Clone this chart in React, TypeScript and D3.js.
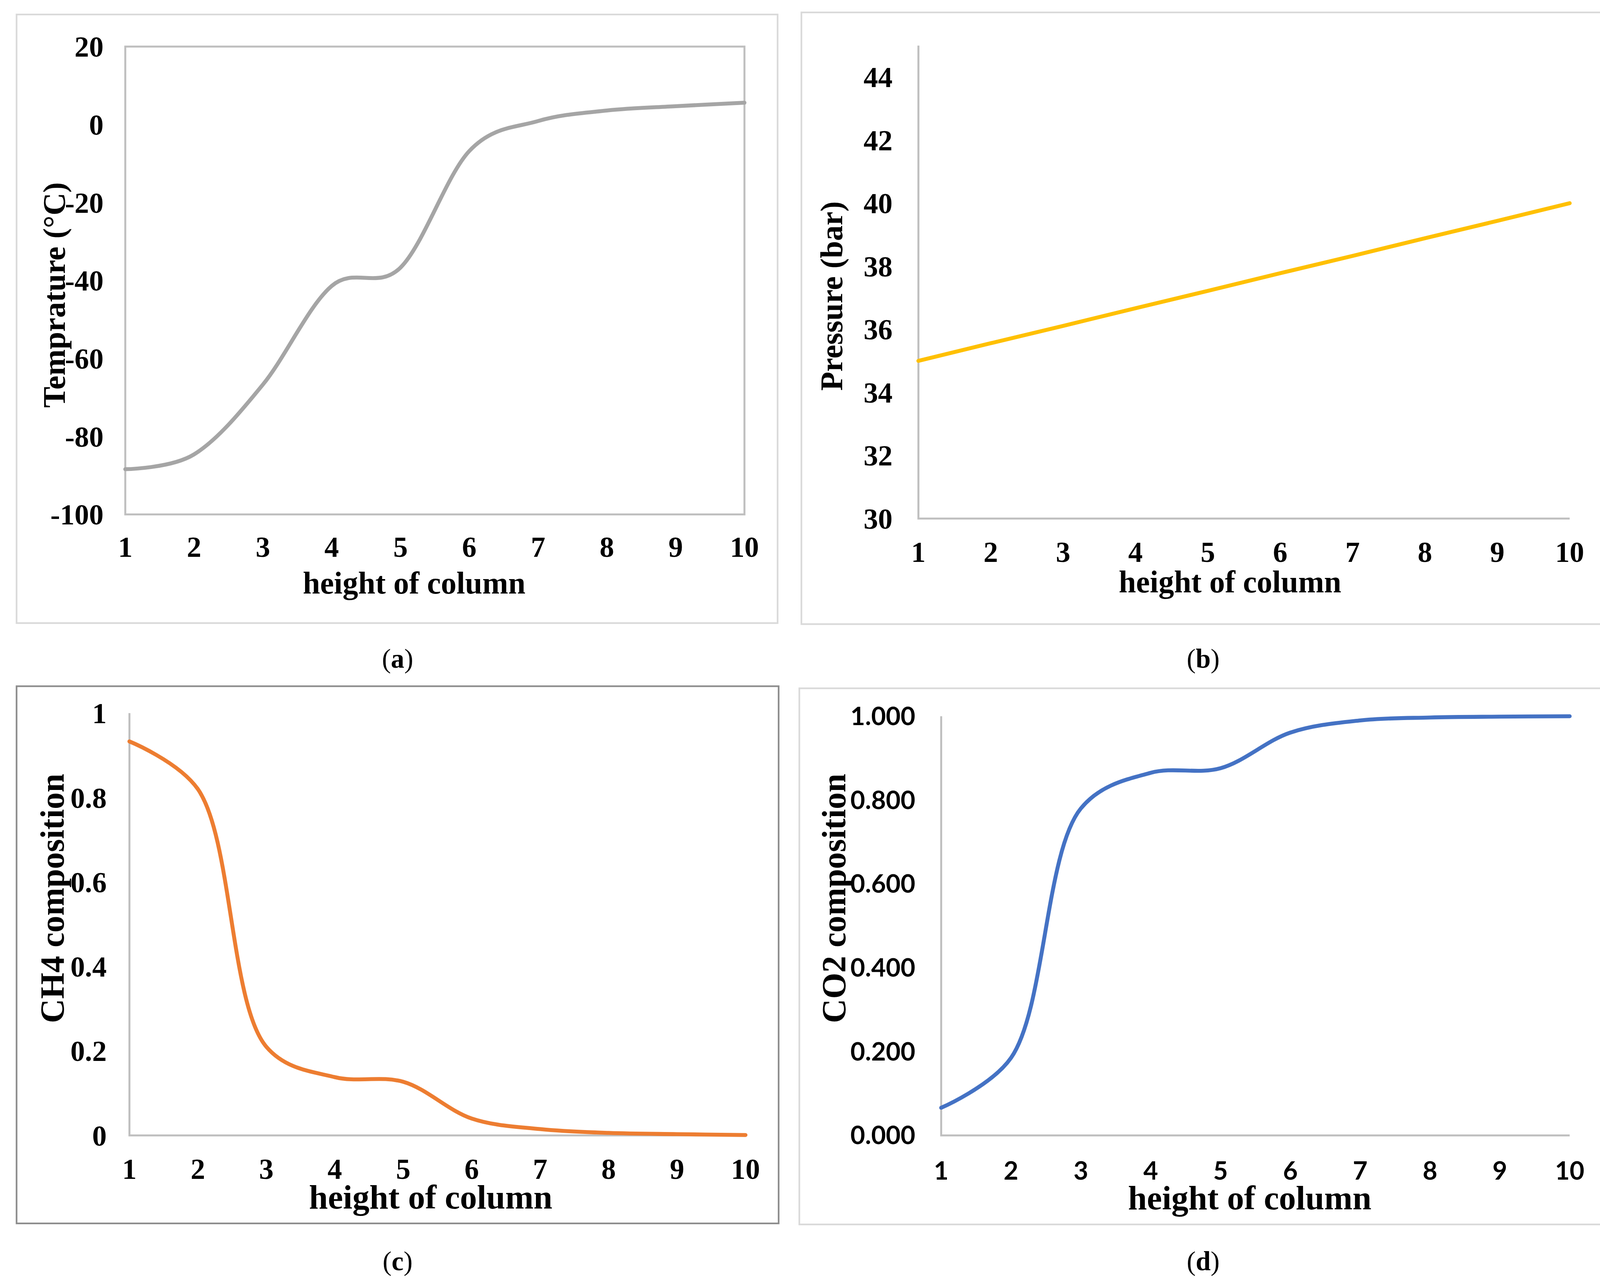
import React from "react";
import * as d3 from "d3";

// column heights (x for all four panels)
const heights = [1, 2, 3, 4, 5, 6, 7, 8, 9, 10];

// series
const temperature = [-88.4, -84.6, -66.7, -41.4, -36.7, -6.8, 0.9, 3.6, 4.7, 5.6];
const pressure = [35.0, 35.56, 36.11, 36.67, 37.22, 37.78, 38.33, 38.89, 39.44, 40.0];
const ch4 = [0.933, 0.82, 0.21, 0.138, 0.127, 0.04, 0.015, 0.006, 0.003, 0.001];
const co2 = [0.066, 0.185, 0.78, 0.865, 0.876, 0.961, 0.99, 0.997, 0.999, 1.0];

// tick labels
const tempTicks = [-100, -80, -60, -40, -20, 0, 20];
const pressureTicks = [30, 32, 34, 36, 38, 40, 42, 44];
const ch4Ticks = [0, 0.2, 0.4, 0.6, 0.8, 1];
const co2Ticks = [0, 0.2, 0.4, 0.6, 0.8, 1];

const W = 4135;
const H = 3278;
const K = W / 1560; // layout below is in units of a 1560px wide page

const SERIF = "'Liberation Serif', 'Times New Roman', serif";
const SANS = "Lato, 'Open Sans', sans-serif";
const AXIS = "#bfbfbf";

interface PanelProps {
  box: [number, number, number, number];
  boxColor: string;
  plot: { x0: number; x1: number; yTop: number; yBottom: number };
  yDomain: [number, number];
  values: number[];
  color: string;
  curve: d3.CurveFactory;
  fullFrame: boolean;
  ticks: number[];
  fmt: (v: number) => string;
  tickFont: string;
  tickSize: number;
  yLabelX: number;
  xLabelY: number;
  xTitle: { x: number; y: number; size: number };
  yTitle: { text: string; x: number; y: number; size: number };
  caption: { letter: string; x: number; y: number };
}

function Panel(p: PanelProps) {
  const x = d3.scaleLinear().domain([1, 10]).range([p.plot.x0, p.plot.x1]);
  const y = d3.scaleLinear().domain(p.yDomain).range([p.plot.yBottom, p.plot.yTop]);
  const line = d3
    .line<number>()
    .x((_, i) => x(heights[i]))
    .y((d) => y(d))
    .curve(p.curve);

  const [bx0, by0, bx1, by1] = p.box;
  return (
    <g>
      <rect x={bx0} y={by0} width={bx1 - bx0} height={by1 - by0} fill="none" stroke={p.boxColor} strokeWidth={1.6} />

      {p.fullFrame ? (
        <rect
          x={p.plot.x0}
          y={p.plot.yTop}
          width={p.plot.x1 - p.plot.x0}
          height={p.plot.yBottom - p.plot.yTop}
          fill="none"
          stroke={AXIS}
          strokeWidth={1.9}
        />
      ) : (
        <path
          d={`M${p.plot.x0},${p.plot.yTop}V${p.plot.yBottom}H${p.plot.x1}`}
          fill="none"
          stroke={AXIS}
          strokeWidth={1.9}
        />
      )}

      {/* y tick labels */}
      {p.ticks.map((t) => (
        <text
          key={t}
          x={p.yLabelX}
          y={y(t)}
          dy="0.35em"
          textAnchor="end"
          fontFamily={p.tickFont}
          fontWeight="bold"
          fontSize={p.tickSize}
        >
          {p.fmt(t)}
        </text>
      ))}

      {/* x tick labels */}
      {heights.map((h) => (
        <text
          key={h}
          x={x(h)}
          y={p.xLabelY}
          dy="0.35em"
          textAnchor="middle"
          fontFamily={p.tickFont}
          fontWeight="bold"
          fontSize={p.tickSize}
        >
          {h}
        </text>
      ))}

      <path d={line(p.values) || ""} fill="none" stroke={p.color} strokeWidth={3.8} strokeLinecap="round" strokeLinejoin="round" />

      <text
        x={p.xTitle.x}
        y={p.xTitle.y}
        dy="0.35em"
        textAnchor="middle"
        fontFamily={SERIF}
        fontWeight="bold"
        fontSize={p.xTitle.size}
      >
        height of column
      </text>
      <text
        transform={`translate(${p.yTitle.x},${p.yTitle.y}) rotate(-90)`}
        dy="0.35em"
        textAnchor="middle"
        fontFamily={SERIF}
        fontWeight="bold"
        fontSize={p.yTitle.size}
      >
        {p.yTitle.text}
      </text>

      <text x={p.caption.x} y={p.caption.y} dy="0.35em" textAnchor="middle" fontFamily={SERIF} fontSize={26}>
        (<tspan fontWeight="bold">{p.caption.letter}</tspan>)
      </text>
    </g>
  );
}

export default function App() {
  return (
    <div style={{ position: "absolute", left: 0, top: 0, background: "#fff" }}>
      <svg width={W} height={H} viewBox={`0 0 1560 ${H / K}`} style={{ display: "block" }}>
        <rect x={0} y={0} width={1560} height={H / K} fill="#fff" />

        <Panel
          box={[16, 14, 751, 602]}
          boxColor="#d9d9d9"
          plot={{ x0: 121, x1: 719, yTop: 45, yBottom: 497 }}
          yDomain={[-100, 20]}
          values={temperature}
          color="#a5a5a5"
          curve={d3.curveCardinal.tension(0)}
          fullFrame
          ticks={tempTicks}
          fmt={(v) => String(v)}
          tickFont={SERIF}
          tickSize={28}
          yLabelX={100}
          xLabelY={528}
          xTitle={{ x: 400, y: 563, size: 30 }}
          yTitle={{ text: "Temprature (°C)", x: 52, y: 285, size: 30.5 }}
          caption={{ letter: "a", x: 384, y: 636 }}
        />

        <Panel
          box={[774, 12, 1548, 603]}
          boxColor="#d9d9d9"
          plot={{ x0: 887, x1: 1516, yTop: 44, yBottom: 501 }}
          yDomain={[30, 45]}
          values={pressure}
          color="#ffc000"
          curve={d3.curveLinear}
          fullFrame={false}
          ticks={pressureTicks}
          fmt={(v) => String(v)}
          tickFont={SERIF}
          tickSize={28}
          yLabelX={862}
          xLabelY={533}
          xTitle={{ x: 1188, y: 562, size: 30 }}
          yTitle={{ text: "Pressure (bar)", x: 803, y: 286, size: 30 }}
          caption={{ letter: "b", x: 1162, y: 636 }}
        />

        <Panel
          box={[16, 663, 752, 1182]}
          boxColor="#8c8c8c"
          plot={{ x0: 125, x1: 720, yTop: 689, yBottom: 1097 }}
          yDomain={[0, 1]}
          values={ch4}
          color="#ed7d31"
          curve={d3.curveCatmullRom.alpha(0.5)}
          fullFrame={false}
          ticks={ch4Ticks}
          fmt={(v) => String(v)}
          tickFont={SERIF}
          tickSize={28}
          yLabelX={103}
          xLabelY={1129}
          xTitle={{ x: 416, y: 1156, size: 32.8 }}
          yTitle={{ text: "CH4 composition", x: 50, y: 868, size: 32.5 }}
          caption={{ letter: "c", x: 384, y: 1218 }}
        />

        <Panel
          box={[772, 665, 1548, 1183]}
          boxColor="#d9d9d9"
          plot={{ x0: 909, x1: 1516, yTop: 692, yBottom: 1097 }}
          yDomain={[0, 1]}
          values={co2}
          color="#4472c4"
          curve={d3.curveCatmullRom.alpha(0.5)}
          fullFrame={false}
          ticks={co2Ticks}
          fmt={(v) => v.toFixed(3)}
          tickFont={SANS}
          tickSize={24.5}
          yLabelX={884}
          xLabelY={1131}
          xTitle={{ x: 1207, y: 1157, size: 32.8 }}
          yTitle={{ text: "CO2 composition", x: 805, y: 868, size: 32.5 }}
          caption={{ letter: "d", x: 1162, y: 1218 }}
        />
      </svg>
    </div>
  );
}
